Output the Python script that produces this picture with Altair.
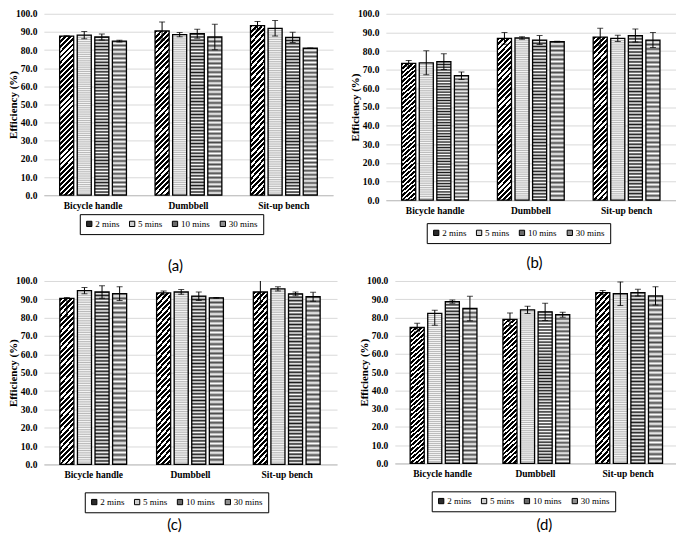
import math
import altair as alt
import pandas as pd

categories = ["Bicycle handle", "Dumbbell", "Sit-up bench"]
series = ["2 mins", "5 mins", "10 mins", "30 mins"]

# values ordered: category-major (Bicycle handle, Dumbbell, Sit-up bench), series-minor (2, 5, 10, 30 mins)
a_values = [87.7, 88.2, 87.2, 84.9, 90.5, 88.5, 89.0, 87.2, 93.5, 92.0, 87.0, 81.0]
a_err_plus = [0.2, 2.0, 1.6, 0.5, 5.0, 1.2, 2.5, 7.0, 2.3, 4.3, 2.8, 0.2]
a_err_minus = [0.2, 2.0, 1.6, 0.5, 5.0, 1.2, 2.5, 7.0, 2.3, 4.3, 2.8, 0.2]

b_values = [73.4, 73.7, 74.3, 66.8, 86.8, 87.0, 85.9, 85.0, 87.5, 86.8, 88.3, 85.9]
b_err_plus = [1.6, 6.4, 4.2, 2.0, 3.1, 0.7, 2.4, 0.2, 4.7, 1.7, 3.5, 4.0]
b_err_minus = [1.6, 6.4, 4.2, 2.0, 3.1, 0.7, 2.4, 0.2, 4.7, 1.7, 3.5, 4.0]

c_values = [90.5, 94.7, 94.0, 93.1, 93.5, 94.0, 91.7, 90.8, 94.0, 95.7, 93.0, 91.4]
c_err_plus = [0.5, 1.7, 3.4, 3.8, 1.0, 1.3, 2.3, 0.2, 7.0, 1.1, 1.0, 2.4]
c_err_minus = [10.0, 1.7, 3.4, 3.8, 1.0, 1.3, 2.3, 0.2, 7.0, 1.1, 1.0, 2.4]

d_values = [74.5, 82.2, 88.7, 84.9, 78.9, 84.2, 83.1, 81.5, 93.6, 93.0, 93.6, 91.8]
d_err_plus = [2.3, 1.8, 0.9, 6.7, 3.6, 2.0, 4.7, 1.4, 1.2, 6.5, 1.8, 5.0]
d_err_minus = [2.3, 6.5, 0.9, 6.7, 3.6, 2.0, 4.7, 1.4, 1.2, 6.5, 1.8, 5.0]

captions = ["(a)", "(b)", "(c)", "(d)"]

SERIF = "Liberation Serif"
legend_colors = ["#2b2b2b", "#cfcfcf", "#6a6a6a", "#8f8f8f"]


def make_df(values, ep, em):
    rows = []
    for i, c in enumerate(categories):
        for j, s in enumerate(series):
            k = i * 4 + j
            rows.append({"cat": c, "series": s, "value": values[k],
                         "lo": values[k] - em[k], "hi": values[k] + ep[k]})
    return pd.DataFrame(rows)


def hard_stops(n, frac, dark, light):
    stops = []
    for i in range(n):
        o0 = round(i / n, 5)
        o1 = round((i + frac) / n, 5)
        o2 = round((i + 1) / n, 5) if i < n - 1 else 1.0
        stops += [{"offset": o0, "color": dark}, {"offset": o1, "color": dark},
                  {"offset": o1, "color": light}, {"offset": o2, "color": light}]
    return stops


def soft_stops(n, dark, light):
    stops = []
    for i in range(n):
        stops.append({"offset": round(i / n, 5), "color": dark})
        stops.append({"offset": round((i + 0.5) / n, 5), "color": light})
    stops.append({"offset": 1.0, "color": dark})
    return stops


def h_soft(n, dark, light="#ffffff"):
    return {"gradient": "linear", "x1": 0, "y1": 0, "x2": 0, "y2": 1,
            "stops": soft_stops(n, dark, light)}


def diag_stripes(w, h, period, frac, dark, light="#ffffff"):
    t = (w + h) / (w * w + h * h)
    n = int(round((w + h) / math.sqrt(2) / period))
    return {"gradient": "linear", "x1": 0, "y1": 0,
            "x2": round(t * w, 5), "y2": round(t * h, 5),
            "stops": hard_stops(n, frac, dark, light)}


grads = [
    diag_stripes(14, 157, 3.6, 0.55, "#000000"),
    h_soft(75, "#b8b8b8", "#f6f6f6"),
    h_soft(50, "#1a1a1a", "#ffffff"),
    h_soft(36, "#4a4a4a", "#ffffff"),
]


def panel(values, ep, em, width, height, lx, ly, caption, cx, cy):
    df = make_df(values, ep, em)
    x = alt.X("cat:N", sort=categories,
              scale=alt.Scale(paddingInner=0.3, paddingOuter=0.165),
              axis=alt.Axis(title=None, labelAngle=0, labelFont=SERIF,
                            labelFontWeight="bold", labelFontSize=9.5,
                            labelColor="black", labelPadding=5, ticks=False,
                            domainColor="#bfbfbf", grid=False))
    xo = alt.XOffset("series:N", sort=series,
                     scale=alt.Scale(domain=series, paddingInner=0.2))
    yscale = alt.Scale(domain=[0, 100], nice=False)
    yax = alt.Axis(title="Efficiency (%)", values=list(range(0, 101, 10)),
                   format=".1f", labelFont=SERIF, labelFontWeight="bold",
                   labelFontSize=9.5, labelColor="black", labelPadding=7,
                   ticks=False, domain=False, grid=True, gridColor="#d9d9d9",
                   titleFont=SERIF, titleFontWeight="bold", titleFontSize=11,
                   titleColor="black", titleX=-30, titleY=height / 2,
                   titleBaseline="middle")

    def Y(field):
        return alt.Y(field, scale=yscale, axis=yax)

    base = alt.Chart(df).mark_bar().encode(
        x=x, xOffset=xo, y=Y("value:Q"),
        fill=alt.Fill("series:N", sort=series,
                      scale=alt.Scale(domain=series, range=legend_colors),
                      legend=alt.Legend(title=None, orient="none", legendX=lx,
                                        legendY=ly, direction="horizontal",
                                        symbolType="square", symbolSize=28,
                                        symbolStrokeColor="black",
                                        symbolStrokeWidth=1,
                                        labelFont=SERIF, labelFontSize=9,
                                        labelColor="black", labelOffset=1.5,
                                        columnPadding=7, padding=5,
                                        strokeColor="black")))
    overlays = []
    for s, g in zip(series, grads):
        overlays.append(
            alt.Chart(df).transform_filter(alt.datum.series == s)
            .mark_bar(fill=g, stroke="black", strokeWidth=1.3)
            .encode(x=x, xOffset=xo, y=Y("value:Q")))
    rule = alt.Chart(df).mark_rule(color="black", strokeWidth=1, clip=True).encode(
        x=x, xOffset=xo, y=Y("lo:Q"), y2="hi:Q")
    cap_hi = alt.Chart(df).mark_tick(color="black", thickness=1, size=6, clip=True).encode(
        x=x, xOffset=xo, y=Y("hi:Q"))
    cap_lo = alt.Chart(df).mark_tick(color="black", thickness=1, size=6, clip=True).encode(
        x=x, xOffset=xo, y=Y("lo:Q"))
    cap = alt.Chart(pd.DataFrame({"t": [caption]})).mark_text(
        font="Lato", fontSize=15, color="black").encode(
        text="t:N", x=alt.value(cx), y=alt.value(cy))
    return alt.layer(base, *overlays, rule, cap_hi, cap_lo, cap).properties(
        width=width, height=height)


pa = panel(a_values, a_err_plus, a_err_minus, 290, 182, 36, 201, captions[0], 132, 253)
pb = panel(b_values, b_err_plus, b_err_minus, 291, 187, 41, 210, captions[1], 149, 250)
pc = panel(c_values, c_err_plus, c_err_minus, 294, 184, 41, 212, captions[2], 131, 245)
pd_ = panel(d_values, d_err_plus, d_err_minus, 282, 183, 37, 211, captions[3], 150, 245)

row1 = alt.hconcat(pa, pb, spacing=17).resolve_scale(fill="independent").resolve_legend(fill="independent")
row2 = alt.hconcat(pc, pd_, spacing=22).resolve_scale(fill="independent").resolve_legend(fill="independent")

chart = alt.vconcat(row1, row2, spacing=2).resolve_scale(
    fill="independent").resolve_legend(fill="independent").properties(
    padding={"left": 0, "top": 0, "right": 0, "bottom": 0},
    background="white").configure_view(stroke=None)

chart.save("out.html", embed_options={"renderer": "svg", "actions": False})
